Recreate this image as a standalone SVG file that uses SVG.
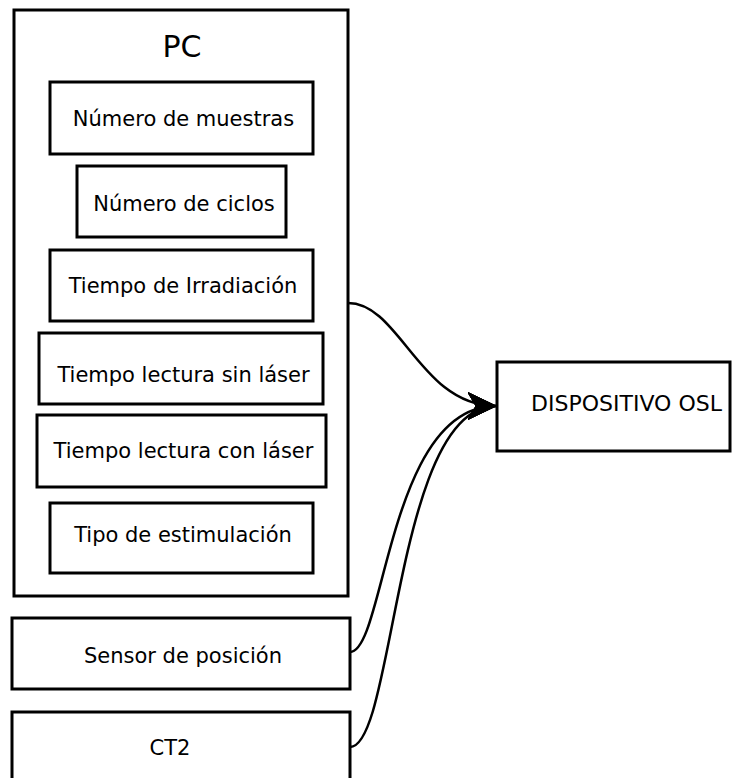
<svg xmlns="http://www.w3.org/2000/svg" width="734" height="778" viewBox="0 0 734 778">
  <style>
    .box { fill: #ffffff; stroke: #000000; stroke-width: 3; }
    .lbl { font-family: "DejaVu Sans", Verdana, sans-serif; font-size: 21px; fill: #000000; text-anchor: middle; }
    .title { font-family: "DejaVu Sans", Verdana, sans-serif; font-size: 30px; fill: #000000; text-anchor: middle; }
    .edge { fill: none; stroke: #000000; stroke-width: 2.5; }
  </style>
  <defs>
    <marker id="arrow" markerUnits="userSpaceOnUse" markerWidth="30" markerHeight="30" viewBox="0 0 30 30" refX="28" refY="15" orient="auto">
      <path d="M0,1.5 L28,15 L0,28.5 L8,15 Z" fill="#000000" stroke="#000000" stroke-width="1" stroke-linejoin="miter"/>
    </marker>
  </defs>

  <rect width="734" height="778" fill="#ffffff"/>

  <!-- PC container with its parameters -->
  <g id="pc">
    <rect class="box" x="14" y="10" width="334" height="586"/>
    <text class="title" x="182" y="57">PC</text>
  </g>
  <g id="numero-muestras">
    <rect class="box" x="50" y="82" width="263" height="72"/>
    <text class="lbl" x="183.5" y="126">Número de muestras</text>
  </g>
  <g id="numero-ciclos">
    <rect class="box" x="77" y="166" width="209" height="71"/>
    <text class="lbl" x="184" y="211">Número de ciclos</text>
  </g>
  <g id="tiempo-irradiacion">
    <rect class="box" x="50" y="250" width="263" height="71"/>
    <text class="lbl" x="183" y="293">Tiempo de Irradiación</text>
  </g>
  <g id="tiempo-sin-laser">
    <rect class="box" x="39" y="333" width="284" height="71"/>
    <text class="lbl" x="183.5" y="382">Tiempo lectura sin láser</text>
  </g>
  <g id="tiempo-con-laser">
    <rect class="box" x="37" y="415" width="289" height="72"/>
    <text class="lbl" x="183.5" y="458">Tiempo lectura con láser</text>
  </g>
  <g id="tipo-estimulacion">
    <rect class="box" x="50" y="503" width="263" height="70"/>
    <text class="lbl" x="183" y="542">Tipo de estimulación</text>
  </g>

  <!-- Other inputs -->
  <g id="sensor-posicion">
    <rect class="box" x="12" y="618" width="338" height="71"/>
    <text class="lbl" x="183" y="663">Sensor de posición</text>
  </g>
  <g id="ct2">
    <rect class="box" x="12" y="712" width="338" height="72"/>
    <text class="lbl" x="170" y="755">CT2</text>
  </g>

  <!-- Target device -->
  <g id="dispositivo-osl">
    <rect class="box" x="497" y="362" width="233" height="89"/>
    <text class="lbl" x="626.5" y="411" style="font-size:22px">DISPOSITIVO OSL</text>
  </g>

  <!-- Connectors -->
  <g id="connectors">
    <path class="edge" d="M348,303 C400,303 420,406 496,406" marker-end="url(#arrow)"/>
    <path class="edge" d="M350,652 C385,652 388,406 496,406" marker-end="url(#arrow)"/>
    <path class="edge" d="M350,747 C395,747 395,406 496,406" marker-end="url(#arrow)"/>
  </g>
</svg>
